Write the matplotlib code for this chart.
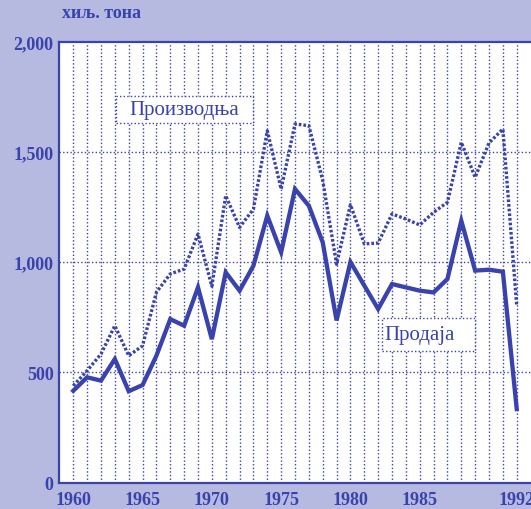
import matplotlib.pyplot as plt
from matplotlib.patches import Rectangle

years = list(range(1960, 1993))

# Производња (dotted)
production = [439, 507, 583, 711, 575, 620, 863, 946, 968, 1127, 890,
              1301, 1157, 1240, 1595, 1331, 1626, 1618, 1370, 990, 1260,
              1082, 1086, 1218, 1195, 1168, 1225, 1271, 1543, 1384, 1540,
              1603, 802]

# Продаја (solid)
sales = [416, 477, 462, 560, 414, 442, 575, 741, 711, 885, 650,
         953, 870, 983, 1210, 1044, 1331, 1255, 1089, 735, 1000,
         893, 787, 900, 885, 870, 862, 923, 1187, 961, 965,
         956, 333]

y_ticks = [0, 500, 1000, 1500, 2000]
y_labels = ["0", "500", "1,000", "1,500", "2,000"]
x_ticks = [1960, 1965, 1970, 1975, 1980, 1985, 1992]

blue = "#3a42ad"
bg = "#b6bae0"
serif = ["Liberation Serif", "DejaVu Serif"]

fig = plt.figure(figsize=(5.31, 5.10), dpi=100, facecolor=bg)
ax = fig.add_axes([59 / 531, 1 - 483.5 / 510, 1 - 59 / 531, (483.5 - 42.5) / 510])
ax.set_facecolor("white")

ax.set_xlim(1958.97, 1993.03)
ax.set_ylim(0, 2000)

# grid
for yr in years:
    ax.axvline(yr, color=blue, lw=1.0, ls=(0, (1, 1.6)), zorder=1)
for v in [500, 1000, 1500]:
    ax.axhline(v, color=blue, lw=1.0, ls=(0, (1, 1.6)), zorder=1)

ax.plot(years, production, color=blue, lw=2.4, ls=(0, (0.8, 0.6)), zorder=3)
ax.plot(years, sales, color=blue, lw=3.1, solid_joinstyle="miter", zorder=4)

ax.set_yticks(y_ticks)
ax.set_yticklabels(y_labels)
ax.set_xticks(x_ticks)
ax.tick_params(length=0, colors=blue, labelsize=13)
ax.tick_params(axis="y", pad=4)
ax.tick_params(axis="x", pad=6)
for lab in ax.get_xticklabels() + ax.get_yticklabels():
    lab.set_family(serif)
    lab.set_fontweight("bold")

for side in ["left", "bottom", "top"]:
    ax.spines[side].set_color(blue)
    ax.spines[side].set_linewidth(1.6)
ax.spines["right"].set_visible(False)

fig.text(102 / 531, 1 - 14 / 510, "хиљ. тона", color=blue, family=serif,
         fontweight="bold", fontsize=13, ha="center", va="center")

# label boxes
ax.add_patch(Rectangle((1963.1, 1630), 9.9, 123, transform=ax.transData,
                       fill=True, facecolor="white", edgecolor=blue, lw=1.0,
                       ls=(0, (1, 1.6)), zorder=5))
ax.text(1968.0, 1690, "Производња", color=blue, family=serif, fontsize=15,
        ha="center", va="center", zorder=6)
ax.add_patch(Rectangle((1982.25, 598), 6.73, 147, transform=ax.transData,
                       fill=True, facecolor="white", edgecolor=blue, lw=1.0,
                       ls=(0, (1, 1.6)), zorder=5))
ax.text(1985.0, 670, "Продаја", color=blue, family=serif, fontsize=15,
        ha="center", va="center", zorder=6)

fig.savefig("out.png", dpi=100, facecolor=bg)
